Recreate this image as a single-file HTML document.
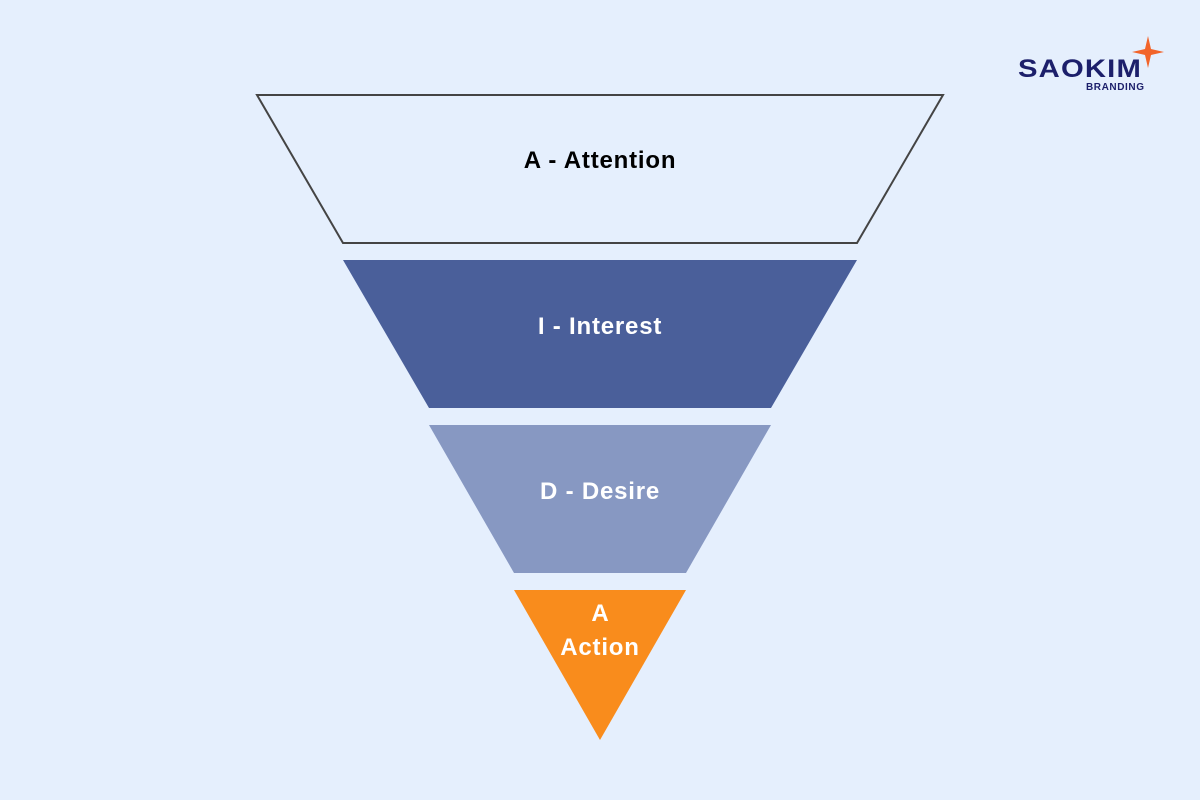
<!DOCTYPE html>
<html><head><meta charset="utf-8"><style>
body{margin:0;width:1200px;height:800px;background:#e5effd;overflow:hidden}
svg{display:block}
text{font-family:"Liberation Sans","DejaVu Sans",sans-serif;font-weight:bold}
</style></head><body>
<svg width="1200" height="800" viewBox="0 0 1200 800">
<rect width="1200" height="800" fill="#e5effd"/>
<polygon points="257,95 943,95 857,243 343,243" fill="none" stroke="#444" stroke-width="2"/>
<text x="600" y="168" font-size="24" letter-spacing="0.8" text-anchor="middle" fill="#000">A - Attention</text>
<polygon points="343,260 857,260 771,408 429,408" fill="#4a5f9a"/>
<text x="600" y="334" font-size="24" letter-spacing="0.8" text-anchor="middle" fill="#fff">I - Interest</text>
<polygon points="429,425 771,425 686,573 514,573" fill="#8798c2"/>
<text x="600" y="499" font-size="24" letter-spacing="0.8" text-anchor="middle" fill="#fff">D - Desire</text>
<polygon points="514,590 686,590 600,740" fill="#f98c1c"/>
<text x="600" y="621" font-size="24" text-anchor="middle" fill="#fff">A</text>
<text x="600" y="655" font-size="24" letter-spacing="0.8" text-anchor="middle" fill="#fff">Action</text>
<text x="1018" y="77" font-size="25" fill="#1c1f6b" letter-spacing="1" textLength="124" lengthAdjust="spacingAndGlyphs">SAOKIM</text>
<text x="1086" y="90" font-size="10" fill="#1c1f6b" font-weight="normal" textLength="58">BRANDING</text>
<path d="M1148 36 L1151 49 L1164 52 L1151 55 L1148 68 L1145 55 L1132 52 L1145 49 Z" fill="#f2642a"/>
</svg>
</body></html>
